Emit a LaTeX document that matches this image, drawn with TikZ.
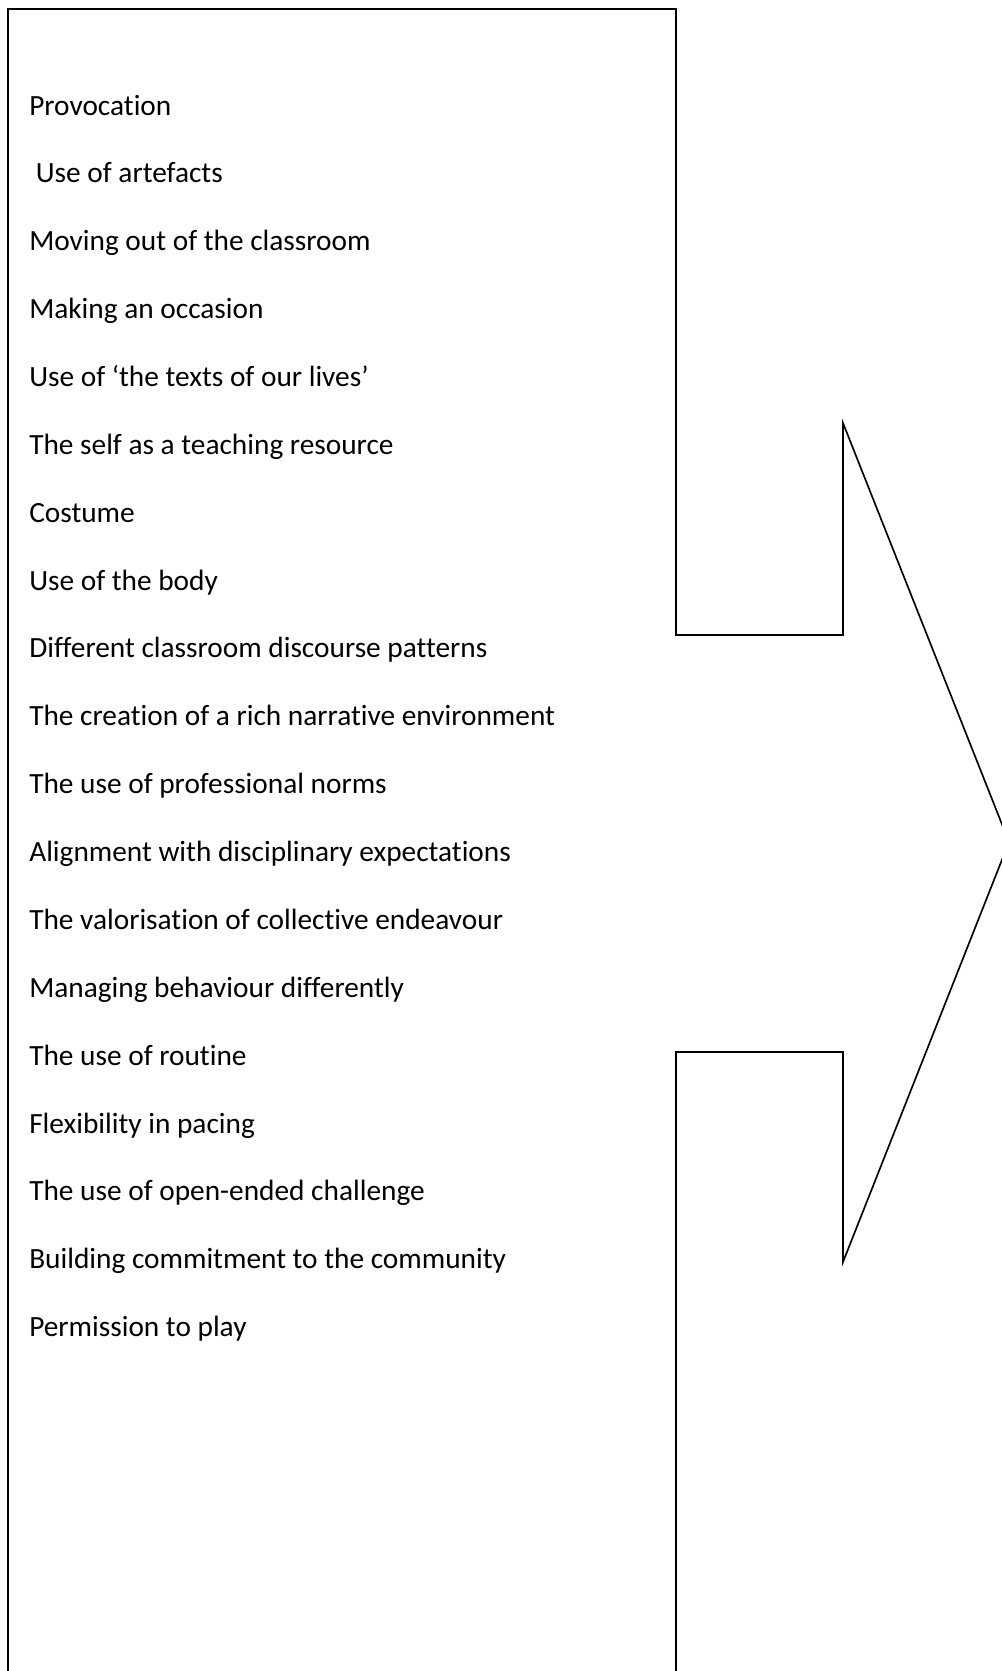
\documentclass[tikz,border=0pt]{standalone}
\usepackage{fontspec}
\setmainfont{Carlito}[Ligatures={TeX,NoCommon}]
\tikzset{
  itemtext/.style={anchor=base west, inner sep=0pt, font=\fontsize{22}{26}\selectfont},
  outline/.style={black, line width=1.25pt, line join=miter}
}
\begin{document}
\begin{tikzpicture}[x=0.75pt, y=-0.75pt]
	\useasboundingbox (0,0) rectangle (1002,1671);
	\clip (0,0) rectangle (1002,1671);

	% box with the arrow coming out of its right side
	\draw[outline] (8,1690) -- (8,9) -- (676,9) -- (676,635) -- (843,635) -- (843,423)
		-- (1009,842) -- (843,1262) -- (843,1052) -- (676,1052) -- (676,1690);

	\foreach \txt [count=\i] in {Provocation, {\ Use of artefacts}, Moving out of the classroom,
		Making an occasion, Use of ‘the texts of our lives’, The self as a teaching resource,
		Costume, Use of the body, Different classroom discourse patterns,
		The creation of a rich narrative environment, The use of professional norms,
		Alignment with disciplinary expectations, The valorisation of collective endeavour,
		Managing behaviour differently, The use of routine, Flexibility in pacing,
		The use of open-ended challenge, Building commitment to the community,
		Permission to play}
		\node[itemtext] (item\i) at (29,{115+67.87*(\i-1)}) {\txt};

\end{tikzpicture}
\end{document}
